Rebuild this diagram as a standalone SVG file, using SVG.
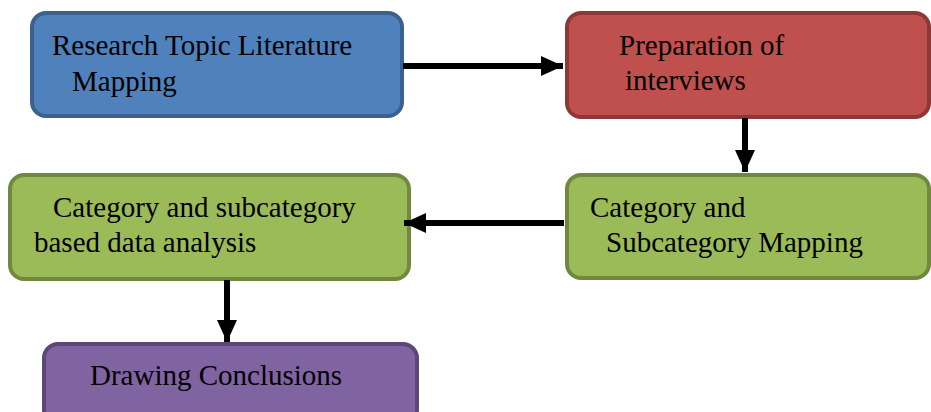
<svg xmlns="http://www.w3.org/2000/svg" width="931" height="412" viewBox="0 0 931 412">
<style>
.box{stroke-width:4}
.blue{fill:#4f81bd;stroke:#3b618f}
.red{fill:#c0504d;stroke:#8c3836}
.green{fill:#9bbb59;stroke:#71893f}
.purple{fill:#8064a2;stroke:#5c4776}
text{font-family:"Liberation Serif","Times New Roman",serif;font-size:29px;fill:#000}
.conn line{stroke:#000;stroke-width:6}
</style>
<defs>
<marker id="ah" markerUnits="userSpaceOnUse" viewBox="0 0 22 20" refX="22" refY="10" markerWidth="22" markerHeight="20" orient="auto">
<path d="M0,0 L22,10 L0,20 Z" fill="#000"/>
</marker>
</defs>
<g id="n1">
<rect class="box blue" x="32" y="13" width="370" height="103" rx="14"/>
<text x="52" y="55">Research Topic Literature</text>
<text x="72" y="91">Mapping</text>
</g>
<g id="n2">
<rect class="box red" x="567" y="13" width="362" height="104" rx="14"/>
<text x="619" y="55">Preparation of</text>
<text x="625" y="90">interviews</text>
</g>
<g id="n3">
<rect class="box green" x="10" y="175" width="399" height="104" rx="14"/>
<text x="53" y="217">Category and subcategory</text>
<text x="34" y="252">based data analysis</text>
</g>
<g id="n4">
<rect class="box green" x="567" y="175" width="362" height="103" rx="14"/>
<text x="590" y="217">Category and</text>
<text x="606" y="252">Subcategory Mapping</text>
</g>
<g id="n5">
<rect class="box purple" x="44" y="344" width="373" height="80" rx="14"/>
<text x="90" y="385">Drawing Conclusions</text>
</g>
<g class="conn">
<line x1="403" y1="66" x2="563" y2="66" marker-end="url(#ah)"/>
<line x1="745" y1="118" x2="745" y2="172" marker-end="url(#ah)"/>
<line x1="564" y1="223" x2="404" y2="223" marker-end="url(#ah)"/>
<line x1="227" y1="280" x2="227" y2="342" marker-end="url(#ah)"/>
</g>
</svg>
